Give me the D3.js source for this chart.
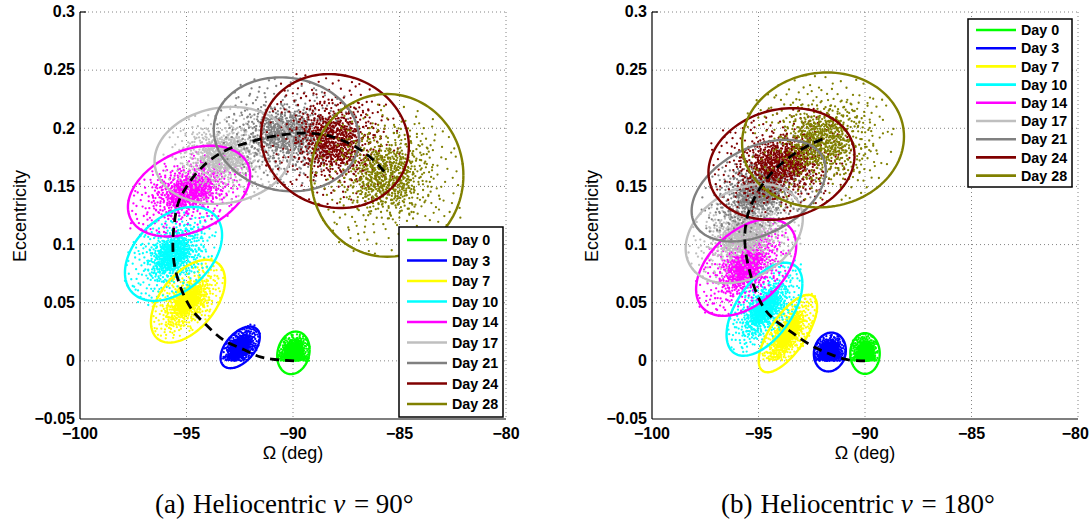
<!DOCTYPE html>
<html><head><meta charset="utf-8">
<script src="https://cdn.jsdelivr.net/npm/d3@7"></script>
<style>body{margin:0;background:#fff}</style>
</head><body>
<svg id="chart" width="1090" height="521"></svg>
<script>
// ---------------- data ----------------
const days = ["Day 0","Day 3","Day 7","Day 10","Day 14","Day 17","Day 21","Day 24","Day 28"];
const dayColors = ["#00ff00","#0000ff","#ffff00","#00ffff","#ff00ff","#bfbfbf","#808080","#800000","#808000"];
const xTicks = [-100,-95,-90,-85,-80];
const xTickLabels = ["\u2212100","\u221295","\u221290","\u221285","\u221280"];
const yTicks = [-0.05,0,0.05,0.1,0.15,0.2,0.25,0.3];
const yTickLabels = ["\u22120.05","0","0.05","0.1","0.15","0.2","0.25","0.3"];
// uncertainty ellipse per day: [centre Ω (deg), centre e, half-width Ω, half-height e, correlation]
const ellipsesA = [
  [-89.98,0.0069,0.76,0.0183,0.15],
  [-92.48,0.0116,0.92,0.0179,0.50],
  [-94.93,0.0513,1.74,0.0356,0.50],
  [-95.61,0.0920,2.28,0.0404,0.40],
  [-94.88,0.1460,2.87,0.0390,0.35],
  [-93.27,0.1767,3.23,0.0417,0.12],
  [-90.31,0.1948,3.41,0.0490,-0.08],
  [-88.03,0.1890,3.47,0.0576,-0.08],
  [-85.58,0.1595,3.58,0.0700,0.00]
];
const ellipsesB = [
  [-90.00,0.0063,0.69,0.0175,0.00],
  [-91.65,0.0076,0.75,0.0167,0.10],
  [-93.62,0.0235,1.37,0.0333,0.70],
  [-94.72,0.0444,1.78,0.0400,0.55],
  [-95.58,0.0803,2.35,0.0416,0.45],
  [-95.67,0.1094,2.75,0.0426,0.30],
  [-94.99,0.1464,3.15,0.0437,0.40],
  [-93.92,0.1693,3.43,0.0480,0.15],
  [-91.97,0.1900,3.80,0.0580,0.05]
];
// mean trajectory (Ω, e)
const meanA = [[-89.95,0.0],[-91.0,0.0015],[-91.63,0.004],[-92.29,0.0095],[-93.27,0.018],[-94.08,0.031],[-94.74,0.0438],[-95.23,0.061],[-95.55,0.081],[-95.64,0.098],[-95.59,0.1155],[-95.39,0.1356],[-94.99,0.15],[-94.25,0.167],[-93.27,0.18],[-91.96,0.1886],[-90.65,0.194],[-89.35,0.1958],[-88.2,0.1929],[-87.06,0.184],[-86.24,0.173],[-85.59,0.16]];
const meanB = [[-90.0,0.0],[-90.82,0.001],[-91.64,0.0058],[-92.29,0.011],[-92.94,0.018],[-93.6,0.0267],[-94.25,0.0353],[-94.74,0.0453],[-95.15,0.061],[-95.39,0.0753],[-95.59,0.0925],[-95.64,0.1097],[-95.48,0.127],[-95.15,0.1414],[-94.66,0.1556],[-94.09,0.167],[-93.27,0.1786],[-92.45,0.1872],[-91.88,0.1915]];
// shape of the sample clouds, in hundredths of the ellipse half-axes (estimated)
const cloudOffsets = "12 -31 -45 8 33 27 -7 -52 58 -14 -22 41 5 3 -61 -29 19 66 40 -47 -35 -6 71 22 -14 18 2 -77 -48 55 27 -9 -83 12 46 38 -9 -21 15 47 -29 -63 64 -39 -56 -3 8 29 37 -72 -18 -38 91 5 -40 30 23 -25 -3 61 -70 -45 52 14 -26 74 11 -58 44 -2 -52 -18 -11 36 78 -61 30 55 -37 -80 3 -12 -95 -10 62 43 -20 9 17 -44 -65 37 35 -17 -4 85 49 -33 -31 -49 84 28 -58 62 21 -87 -44 -31 9 20 56 -55 -16 -15 38 72 -74 -2 26 6 -33 51 68 -25 -6 -35 43 19 -50 -67 14 -20 -87 41 59 60 -24 -93 31 -6 -41 18 1 46 76 -8 -62 -52 20 -65 -13 27 53 33 -27 -26 95 -40 -47 78 10 -3 -79 -24 41 -81 -19 64 66 12 -36 -11 24 38 -54 -40 7 -30 48 58 -68 5 33 -36 -2 -66 81 47 -42 -57 16 14 -90 -35 57 -20 -25 45 4 -48 39 -62 -15 2 72 35 -57 23 28 -13 -8 80 61 -4 -38 -72 13 52 -73 -14 50 -50 -21 -44 36 11 -46 66 6 -92 87 -22 -30 33 18 -39 -66 -60 45 25 -12 -8 70 -68 -53 44 22 84 -34 -23 99 14 -1 25 -77 -42 34 -53 -43 7 63 50 -17 -70 29 -28 -60 58 11 40 47 -11 -28 -55 82 -45 -49 -26 0 70 55 4 -86 22 25 -76 -10 -19 42 64 -64 -8 19 15 -39 -41 74 -31 -23 58 8 -9 -51 35 37 -1 -5 -60 60 31 -32 16 16 -52 -71 -68 51 45 -20 -30 93 -12 -45 -15 3 33 67 -57 -56 73 27 -41 -14 -84 44 7 -81 50 12 24 -36 -4 58 -34 -9 48 32 -95 -62 -33 77 20 -27 11 20 -16 -48 -77 9 62 65 -16 -41 39 30 30 -69 -19 14 -35 -18 -60 53 -73 -93 3 39 47 -7 -26 86 -3 -55 -48 23 9 -31 70 47 -27 -3 13 73 54 -44 -93 17 -5 -76 29 35 -21 -12 56 61 -46 -59 -12 6 37 42 -68 -24 -17 88 33 -37 60 2 -40 -64 45 50 17 -29 -36 15 -72 -97 -21 69 -29 -15 30 26 -56 -50 9 40 79 -8 -45 79 8 -40 -62 10 11 -72 -30 56 -8 -21 -11 31 42 -52 55 3 -24 63 -66 -35 25 19 -100 -84 -55 45 -38 -11 -2 71 -14 -46 -51 24 67 -17 43 96 -52 -57 -37 8 -15 52 26 -26 -79 34 4 -67 18 13 -61 -39 -20 60 69 -4 19 38 -84 -78 -5 22 -33 -33 42 85 -34 -53 -27 1 -53 46 51 -19 5 75 -50 -47 25 28 22 -88 -47 11 -37 -6 74 54 -24 -42 -6 18 57 -63 -82 66 1 -22 -47 41 -8 -9 -14 57 37 -75 11 29 -47 -30 -70 90 23 -2 -33 49 -78 -58 30 14 32 -44 -9 68 -42 -16 -96 36 63 -69 -58 5 -6 43 -30 -27 22 80 -73 -51 -64 21 -2 -12 87 59 10 -39 -33 9 52 -82 -16 32 -45";
// the clouds are denser toward the centre: the sample shape is also drawn at these relative spreads
const cloudLayers = [1.0, 0.62, 0.36];

// ---------------- drawing ----------------
const svg = d3.select("#chart");
const nums = cloudOffsets.trim().split(/\s+/).map(Number);
const offsets = [];
for (let i = 0; i < nums.length; i += 2) offsets.push([nums[i] / 100, nums[i + 1] / 100]);

function sym(u, v, k) {
  let a = u, b = v;
  if (k & 4) a = -a;
  switch (k & 3) {
    case 1: [a, b] = [-b, a]; break;
    case 2: [a, b] = [-a, -b]; break;
    case 3: [a, b] = [b, -a]; break;
  }
  return [a, b];
}

const FONT = "'Liberation Sans', Arial, Helvetica, sans-serif";
const panels = [
  {x0: 80, x1: 506, ell: ellipsesA, mean: meanA, cap: "(a)", nu: "90°", capX: 155,
   leg: {x: 399, y: 227, w: 104, h: 190, first: 13, step: 20.5}},
  {x0: 652, x1: 1078, ell: ellipsesB, mean: meanB, cap: "(b)", nu: "180°", capX: 721,
   leg: {x: 968, y: 19, w: 104, h: 168, first: 11, step: 18.2}}
];
const yTop = 12, yBot = 419;

panels.forEach((p, pi) => {
  const x = d3.scaleLinear().domain([-100, -80]).range([p.x0, p.x1]);
  const y = d3.scaleLinear().domain([-0.05, 0.3]).range([yBot, yTop]);
  const g = svg.append("g");

  // grid
  const gridCol = "#666";
  g.append("g").selectAll("line").data(xTicks.slice(1)).join("line")
    .attr("x1", d => x(d)).attr("x2", d => x(d)).attr("y1", yTop).attr("y2", yBot)
    .attr("stroke", gridCol).attr("stroke-width", 0.8).attr("stroke-dasharray", "1,3");
  g.append("g").selectAll("line").data(yTicks.slice(1)).join("line")
    .attr("x1", p.x0).attr("x2", p.x1).attr("y1", d => y(d)).attr("y2", d => y(d))
    .attr("stroke", gridCol).attr("stroke-width", 0.8).attr("stroke-dasharray", "1,3");

  const clipId = "clip" + pi;
  svg.append("clipPath").attr("id", clipId).append("rect")
    .attr("x", p.x0).attr("y", yTop).attr("width", p.x1 - p.x0).attr("height", yBot - yTop);
  const plot = g.append("g").attr("clip-path", `url(#${clipId})`);

  // clouds
  p.ell.forEach((e, k) => {
    const [cx, cy, sx, sy, rho] = e;
    const q = Math.sqrt(1 - rho * rho);
    const pts = [];
    cloudLayers.forEach((s, li) => {
      offsets.forEach(([u0, v0]) => {
        const [u1, v1] = sym(u0, v0, k + pi * 3 + li * 2);
        const u = u1 * s, v = v1 * s;
        const ey = cy + sy * (rho * u + q * v);
        pts.push([cx + sx * u, Math.abs(ey)]);
      });
    });
    plot.append("g").selectAll("circle").data(pts).join("circle")
      .attr("cx", d => x(d[0])).attr("cy", d => y(d[1])).attr("r", 1.15)
      .attr("fill", dayColors[k]);
  });

  // ellipses
  const angles = d3.range(0, 361, 3).map(a => a * Math.PI / 180);
  p.ell.forEach((e, k) => {
    const [cx, cy, sx, sy, rho] = e;
    const q = Math.sqrt(1 - rho * rho);
    const line = d3.line()
      .x(t => x(cx + sx * Math.cos(t)))
      .y(t => y(cy + sy * (rho * Math.cos(t) + q * Math.sin(t))));
    plot.append("path").attr("d", line(angles)).attr("fill", "none")
      .attr("stroke", dayColors[k]).attr("stroke-width", 2.4);
  });

  // mean line
  plot.append("path").attr("d", d3.line().x(d => x(d[0])).y(d => y(d[1])).curve(d3.curveCatmullRom)(p.mean))
    .attr("fill", "none").attr("stroke", "#000").attr("stroke-width", 2.8).attr("stroke-dasharray", "9,6");

  // axes lines
  g.append("line").attr("x1", p.x0).attr("x2", p.x0).attr("y1", yTop).attr("y2", yBot).attr("stroke", "#000").attr("stroke-width", 1.2);
  g.append("line").attr("x1", p.x0).attr("x2", p.x1).attr("y1", yBot).attr("y2", yBot).attr("stroke", "#000").attr("stroke-width", 1.2);
  g.append("line").attr("x1", p.x0).attr("x2", p.x0 + 6).attr("y1", yTop).attr("y2", yTop).attr("stroke", "#000").attr("stroke-width", 1.2);

  // tick labels
  const xl = g.append("g").selectAll("text").data(xTicks).join("text")
    .attr("x", d => x(d)).attr("y", 439).attr("text-anchor", "middle")
    .style("font-family", FONT).style("font-weight", "bold").style("font-size", "16px")
    .text((d, i) => xTickLabels[i]);
  // keep the last label inside the picture
  xl.each(function () {
    const b = this.getBBox();
    if (b.x + b.width > 1089) d3.select(this).attr("x", +d3.select(this).attr("x") - (b.x + b.width - 1089));
  });
  g.append("g").selectAll("text").data(yTicks).join("text")
    .attr("x", p.x0 - 5).attr("y", d => y(d)).attr("dy", "0.33em").attr("text-anchor", "end")
    .style("font-family", FONT).style("font-weight", "bold").style("font-size", "16px")
    .text((d, i) => yTickLabels[i]);

  // axis titles
  g.append("text").attr("x", x(-90)).attr("y", 459).attr("text-anchor", "middle")
    .style("font-family", FONT).style("font-size", "18px").text("\u03A9 (deg)");
  g.append("text").attr("transform", `translate(${p.x0 - 60},216) rotate(-90)`).attr("text-anchor", "middle")
    .attr("dy", "0.35em")
    .style("font-family", FONT).style("font-size", "18px").text("Eccentricity");

  // legend
  const L = p.leg;
  const lg = g.append("g");
  lg.append("rect").attr("x", L.x).attr("y", L.y).attr("width", L.w).attr("height", L.h)
    .attr("fill", "#fff").attr("stroke", "#000").attr("stroke-width", 1.5);
  days.forEach((dname, k) => {
    const yy = L.y + L.first + k * L.step;
    lg.append("line").attr("x1", L.x + 8).attr("x2", L.x + 48).attr("y1", yy).attr("y2", yy)
      .attr("stroke", dayColors[k]).attr("stroke-width", 2.6);
    lg.append("text").attr("x", L.x + 53).attr("y", yy).attr("dy", "0.36em")
      .style("font-family", FONT).style("font-weight", "bold").style("font-size", "14.3px")
      .text(dname);
  });

  // caption
  const cap = svg.append("text").attr("x", p.capX).attr("y", 513)
    .style("font-family", "'Liberation Serif', 'Times New Roman', serif").style("font-size", "27px").attr("fill", "#000");
  cap.append("tspan").text(p.cap);
  cap.append("tspan").attr("dx", 8).text("Heliocentric ");
  cap.append("tspan").style("font-style", "italic").text("\u03BD");
  cap.append("tspan").attr("dx", 2).text(" = " + p.nu);
});
</script>
</body></html>
